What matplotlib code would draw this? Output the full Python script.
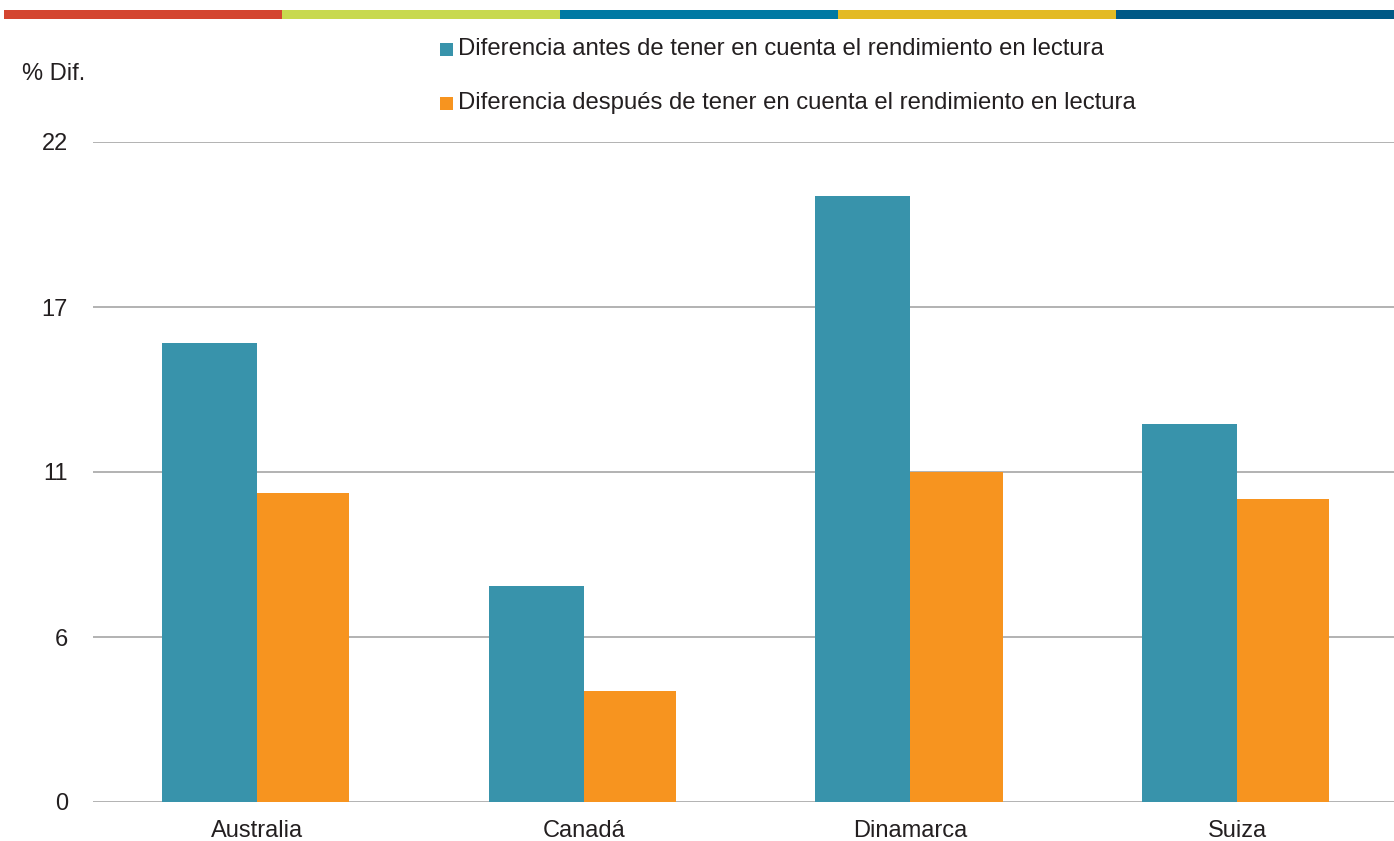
import matplotlib.pyplot as plt
from matplotlib.patches import Rectangle
import numpy as np

paises = ['Australia', 'Canadá', 'Dinamarca', 'Suiza']
antes = [15.3, 7.2, 20.2, 12.6]
despues = [10.3, 3.7, 11.0, 10.1]
series = ['Diferencia antes de tener en cuenta el rendimiento en lectura',
          'Diferencia después de tener en cuenta el rendimiento en lectura']
y_ticks = [0, 5.5, 11, 16.5, 22]
y_labels = ['0', '6', '11', '17', '22']

teal = '#3893ab'
orange = '#f7941f'
text_col = '#231f20'
strip_cols = ['#d44530', '#c8d94e', '#0079a3', '#e3ba24', '#005986']

plt.rcParams['font.family'] = ['Liberation Sans', 'DejaVu Sans']
fs = 17

W, H = 1394, 841
fig = plt.figure(figsize=(W / 100, H / 100), dpi=100)
ax = fig.add_axes([93 / W, 39 / H, (W - 93) / W, 660 / H])

x = np.arange(len(paises))
ax.bar(x, antes, -0.291, align='edge', color=teal, label=series[0])
ax.bar(x, despues, 0.282, align='edge', color=orange, label=series[1])

ax.set_xlim(-0.502, 3.48)
ax.set_ylim(0, 22)
ax.set_yticks(y_ticks)
ax.set_yticklabels(y_labels)
ax.set_xticks(x)
ax.set_xticklabels(paises)
ax.tick_params(axis='both', length=0, labelsize=fs, labelcolor=text_col)
ax.tick_params(axis='y', pad=18)
ax.tick_params(axis='x', pad=13)
ax.yaxis.grid(True, color='#a6a6a6', linewidth=1.2)
ax.set_axisbelow(True)
for s in ax.spines.values():
    s.set_visible(False)

# top colour strip
seg = (W - 4) / len(strip_cols)
for i, c in enumerate(strip_cols):
    fig.add_artist(Rectangle(((4 + i * seg) / W, 1 - 19 / H), seg / W, 9 / H,
                             transform=fig.transFigure, color=c, lw=0))

# legend (manual)
for i, (lab, c) in enumerate(zip(series, [teal, orange])):
    base = 55 + i * 54
    fig.add_artist(Rectangle((440 / W, 1 - (base + 1) / H), 13 / W, 13 / H,
                             transform=fig.transFigure, color=c, lw=0))
    fig.text(458 / W, 1 - base / H, lab, ha='left', va='baseline', fontsize=17.2,
             color=text_col)

fig.text(22 / W, 1 - 80 / H, '% Dif.', ha='left', va='baseline', fontsize=fs,
         color=text_col)

plt.savefig('out.png', dpi=100)
